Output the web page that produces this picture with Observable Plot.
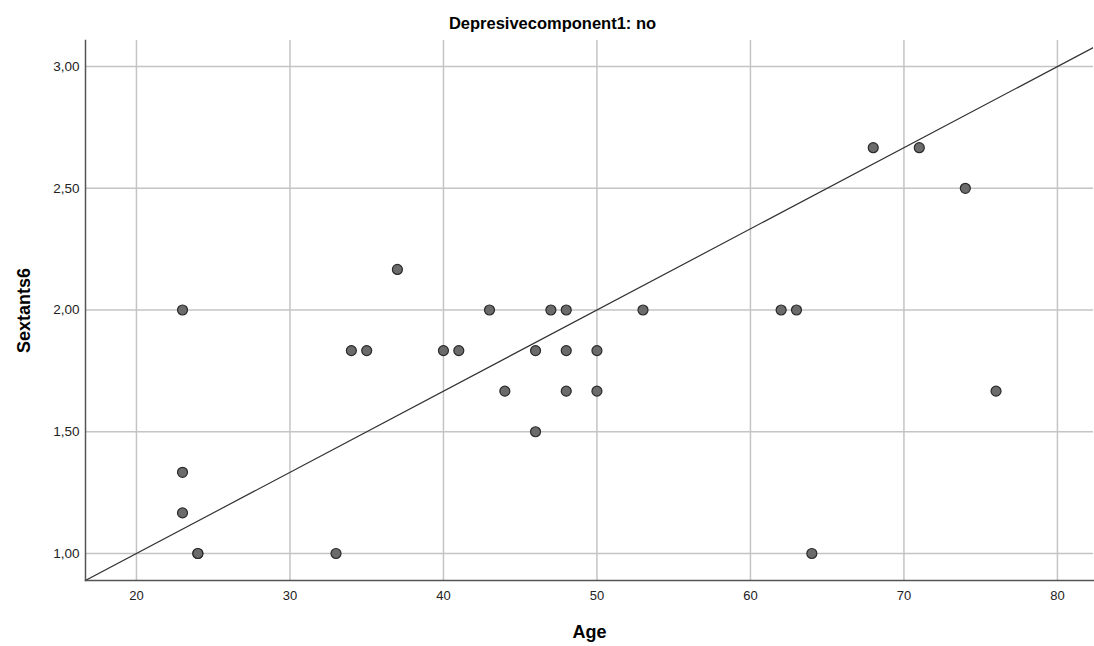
<!DOCTYPE html>
<html><head><meta charset="utf-8">
<script src="https://cdn.jsdelivr.net/npm/d3@7"></script>
<script src="https://cdn.jsdelivr.net/npm/@observablehq/plot@0.6"></script>
<style>body{margin:0;background:#fff;font-family:"Liberation Sans",Arial,sans-serif;}</style>
</head><body><div id="chart"></div>
<script>
const ages = [23,23,23,24,24,33,34,35,37,40,41,43,44,46,46,47,48,48,48,50,50,53,62,63,64,68,71,74,76];
const sextants = [2.0,1.3333,1.1667,1.0,1.0,1.0,1.8333,1.8333,2.1667,1.8333,1.8333,2.0,1.6667,1.8333,1.5,2.0,2.0,1.8333,1.6667,1.8333,1.6667,2.0,2.0,2.0,1.0,2.6667,2.6667,2.5,1.6667];
const xTicks = [20,30,40,50,60,70,80];
const yTicks = [1.0,1.5,2.0,2.5,3.0];
const lineAges = [15, 85];
const lineValues = [0.8333, 3.1667];
const title = "Depresivecomponent1: no";
const xLabel = "Age";
const yLabel = "Sextants6";

const pts = ages.map((a,i)=>({age:a, s:sextants[i]}));
const linePts = lineAges.map((a,i)=>({age:a, s:lineValues[i]}));
const fmt = d => d.toFixed(2).replace(".", ",");

const chart = Plot.plot({
  width: 1094, height: 646,
  marginLeft: 85, marginRight: 1, marginTop: 40, marginBottom: 66,
  style: {fontFamily: '"Liberation Sans", Arial, sans-serif', fontSize: "13px", color: "#222"},
  x: {domain: [16.68, 82.35]},
  y: {domain: [0.889, 3.107]},
  marks: [
    Plot.gridX(xTicks, {stroke: "#c4c4c4", strokeOpacity: 1, strokeWidth: 1.5}),
    Plot.gridY(yTicks, {stroke: "#c4c4c4", strokeOpacity: 1, strokeWidth: 1.5}),
    Plot.axisX(xTicks, {tickSize: 0, tickPadding: 10, label: null, tickFormat: d => String(d), fontSize: 13, fill: "#222"}),
    Plot.axisY(yTicks, {tickSize: 0, tickPadding: 6, label: null, tickFormat: fmt, fontSize: 13.5, fill: "#222"}),
    Plot.frame({anchor: "left", stroke: "#555", strokeWidth: 1.5}),
    Plot.frame({anchor: "bottom", stroke: "#555", strokeWidth: 1.5}),
    Plot.line(linePts, {x: "age", y: "s", stroke: "#333", strokeWidth: 1.2, clip: true}),
    Plot.dot(pts, {x: "age", y: "s", r: 5, fill: "#6b6b6b", stroke: "#2a2a2a", strokeWidth: 1.2}),
    Plot.text([title], {frameAnchor: "top", lineAnchor: "middle", dx: -37, dy: -17, fontWeight: "bold", fontSize: 16.5, fill: "#000"}),
    Plot.text([xLabel], {frameAnchor: "bottom", lineAnchor: "middle", dy: 52, fontWeight: "bold", fontSize: 18, fill: "#000"}),
    Plot.text([yLabel], {frameAnchor: "left", textAnchor: "middle", lineAnchor: "middle", dx: -61, rotate: -90, fontWeight: "bold", fontSize: 18, fill: "#000"})
  ]
});
document.getElementById("chart").appendChild(chart);
</script></body></html>
